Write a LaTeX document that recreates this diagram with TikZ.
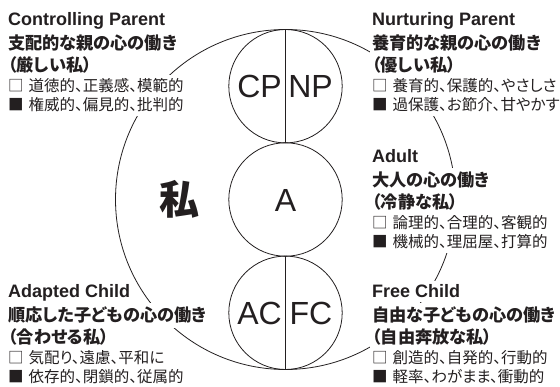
\documentclass[tikz,border=0pt]{standalone}
\usepackage{fontspec}
\setmainfont{Liberation Sans}
\newfontfamily\jp{Noto Sans CJK JP}[RawFeature=+palt]
\definecolor{ink}{HTML}{231F20}
\begin{document}
\begin{tikzpicture}[x=1pt,y=-1pt,
  every node/.style={text=ink, inner sep=0pt},
  lbl/.style={anchor=base west, fill=white, inner xsep=2pt, inner ysep=4pt},
  entitle/.style={lbl, font=\fontsize{18}{20}\selectfont\bfseries},
  jphead/.style={lbl, font=\fontsize{17.2}{20}\selectfont\jp\bfseries},
  jprow/.style={lbl, font=\fontsize{15.5}{17}\selectfont\jp},
  ring/.style={circle, draw=ink, line width=0.8pt, inner sep=0pt},
  egoletter/.style={font=\fontsize{32}{36}\selectfont}]
\path[use as bounding box] (0,0) rectangle (560,387);
\fill[white] (0,0) rectangle (560,387);
% outer circle
\node[ring, minimum size=340pt] (self) at (285.5,199.5) {};
% text blocks
\newcommand{\egoblock}[8]{%
  \node[entitle] (#1t) at (#2,#3) {#4};
  \node[jphead] (#1h) at (#2,#3+24) {#5};
  \node[jphead] (#1p) at (#2,#3+46) {#6};
  \node[jprow] (#1a) at (#2,#3+66) {□\hspace{5pt}#7};
  \node[jprow] (#1b) at (#2,#3+85) {■\hspace{5pt}#8};}
\egoblock{cpb}{6}{26}{Controlling Parent}{支配的な親の心の働き}{（厳しい私）}{道徳的、正義感、模範的}{権威的、偏見的、批判的}
\egoblock{npb}{370}{26}{Nurturing Parent}{養育的な親の心の働き}{（優しい私）}{養育的、保護的、やさしさ}{過保護、お節介、甘やかす}
\egoblock{ab}{370}{163}{Adult}{大人の心の働き}{（冷静な私）}{論理的、合理的、客観的}{機械的、理屈屋、打算的}
\egoblock{acb}{6}{298}{Adapted Child}{順応した子どもの心の働き}{（合わせる私）}{気配り、遠慮、平和に}{依存的、閉鎖的、従属的}
\egoblock{fcb}{370}{298}{Free Child}{自由な子どもの心の働き}{（自由奔放な私）}{創造的、自発的、行動的}{軽率、わがまま、衝動的}
% inner circles
\node[ring, minimum size=113.4pt] (p) at (285.5,86.2) {};
\node[ring, minimum size=113.4pt] (a) at (285.5,199.5) {};
\node[ring, minimum size=113.4pt] (c) at (285.5,312.8) {};
\draw[draw=ink, line width=0.8pt] (p.north) -- (p.south);
\draw[draw=ink, line width=0.8pt] (c.north) -- (c.south);
\node[egoletter] (cp) at (259.5,86.2) {CP};
\node[egoletter] (np) at (310.5,86.2) {NP};
\node[egoletter] (al) at (285.5,200) {A};
\node[egoletter] (ac) at (259.5,313) {AC};
\node[egoletter] (fc) at (311,313) {FC};
\node[font=\fontsize{40}{44}\selectfont\jp\bfseries] (watashi) at (179,199) {私};
\end{tikzpicture}
\end{document}
